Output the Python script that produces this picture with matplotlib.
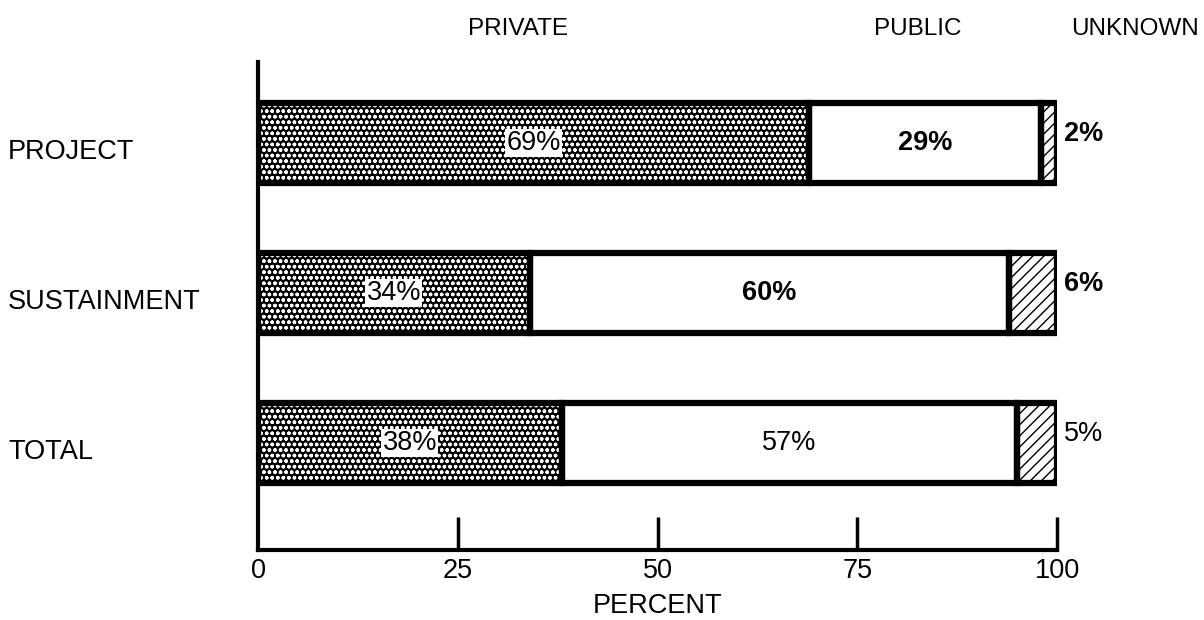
import matplotlib.pyplot as plt
import numpy as np

plt.rcParams['font.family'] = ['Liberation Sans', 'DejaVu Sans']

# funding source split, percent of each group
groups = ['PROJECT', 'SUSTAINMENT', 'TOTAL']
private = [69, 34, 38]
public = [29, 60, 57]
unknown = [2, 6, 5]
bold_public = [True, True, False]
bold_unknown = [True, True, False]

f, ax = plt.subplots(figsize=(12.04, 6.2), dpi=100)
f.subplots_adjust(left=0.2143, right=0.878, bottom=0.1129, top=0.9)

y = np.arange(len(groups))[::-1]
h = 0.53
private = np.array(private)
public = np.array(public)
unknown = np.array(unknown)

# halftone dots for private, hatch for unknown; outlines drawn after
ax.barh(y, private, height=h, color='black', edgecolor='white', hatch='ooo', linewidth=0)
ax.barh(y, public, left=private, height=h, color='white', linewidth=0)
ax.barh(y, unknown, left=private + public, height=h, color='white', edgecolor='black',
        hatch='///', linewidth=0)
for lefts, widths in [(0, private), (private, public), (private + public, unknown)]:
    ax.barh(y, widths, left=lefts, height=h, color='none', edgecolor='black', linewidth=4.5)

fs = 19.5
for i in range(len(groups)):
    ax.text(private[i] / 2, y[i], f'{private[i]}%', ha='center', va='center', fontsize=fs,
            bbox=dict(facecolor='white', edgecolor='none', pad=1))
    ax.text(private[i] + public[i] / 2, y[i], f'{public[i]}%', ha='center', va='center', fontsize=fs,
            fontweight='bold' if bold_public[i] else 'normal')
    ax.text(100.9, y[i] + 0.06, f'{unknown[i]}%', ha='left', va='center', fontsize=fs,
            fontweight='bold' if bold_unknown[i] else 'normal')
    ax.text(-31.3, y[i] - 0.06, groups[i], ha='left', va='center', fontsize=fs)

ax.set_xlim(0, 100)
ax.set_ylim(-0.713, 2.54)
ax.set_yticks([])
ax.set_xticks([0, 25, 50, 75, 100])
ax.set_xticklabels(['0', '25', '50', '75', '100'], fontsize=fs)
ax.tick_params(axis='x', direction='in', length=24, width=2.5, pad=6)
ax.xaxis.get_major_ticks()[0].tick1line.set_visible(False)
ax.set_xlabel('PERCENT', fontsize=fs, labelpad=6)
ax.spines['top'].set_visible(False)
ax.spines['right'].set_visible(False)
ax.spines['left'].set_linewidth(3)
ax.spines['bottom'].set_linewidth(3)

for label, x in [('PRIVATE', 32.5), ('PUBLIC', 82.5), ('UNKNOWN', 109.8)]:
    ax.text(x, 1.068, label, transform=ax.get_xaxis_transform(), ha='center', va='center',
            fontsize=17.5)

plt.savefig('out.png')
